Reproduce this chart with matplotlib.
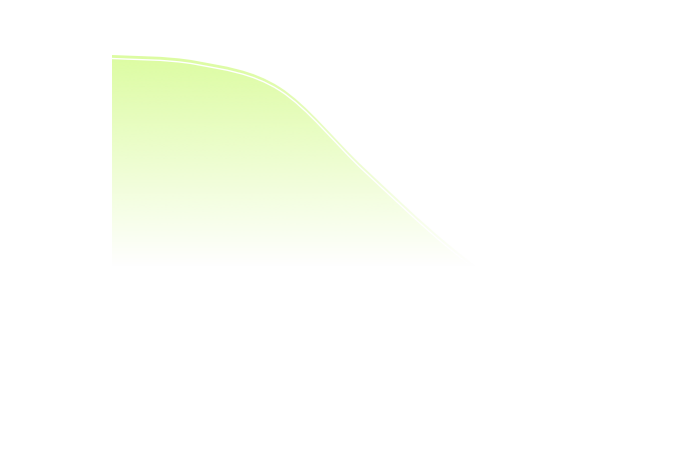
import matplotlib.pyplot as plt
import numpy as np
import matplotlib.transforms as mtransforms
from matplotlib.path import Path
from matplotlib.patches import PathPatch

# chart data (weekly values, axes hidden in the original)
days = ['Mon', 'Tue', 'Wed', 'Thu', 'Fri', 'Sat', 'Sun']
values = [100, 98.3, 90.7, 67.4, 45.2, 27, 14]

top_color = (220 / 255, 252 / 255, 160 / 255)


def smooth_curve(x, y, smooth=1 / 3):
    """Bezier path through the points (catmull-rom style smoothing)"""
    pts = np.column_stack([x, y]).astype(float)
    n = len(pts)
    verts = [pts[0]]
    codes = [Path.MOVETO]
    for i in range(n - 1):
        prev = pts[max(i - 1, 0)]
        cur = pts[i]
        nxt = pts[i + 1]
        nxt2 = pts[min(i + 2, n - 1)]
        c1 = cur + (nxt - prev) * smooth * 0.5
        c2 = nxt - (nxt2 - cur) * smooth * 0.5
        verts += [c1, c2, nxt]
        codes += [Path.CURVE4] * 3
    return verts, codes


fig = plt.figure(figsize=(6.83, 4.59), dpi=100)
ax = fig.add_axes([112 / 683, 60 / 459, 503 / 683, 344 / 459])
ax.set_xlim(0, len(days) - 1)
ax.set_ylim(0, 100)
ax.axis('off')

xs = np.arange(len(days))
verts, codes = smooth_curve(xs, values)

# area below the curve, filled with a fading gradient
area_verts = verts + [(xs[-1], 0), (xs[0], 0), verts[0]]
area_codes = codes + [Path.LINETO, Path.LINETO, Path.CLOSEPOLY]
area = PathPatch(Path(area_verts, area_codes), facecolor='none', edgecolor='none')
ax.add_patch(area)

grad = np.zeros((400, 1, 4))
grad[:, 0, :3] = top_color
grad[:, 0, 3] = np.clip(1 - np.linspace(0, 1, 400) / 0.62, 0, 1)
img = ax.imshow(grad, extent=[xs[0], xs[-1], 0, 101], aspect='auto',
                origin='upper', interpolation='bilinear')
img.set_clip_path(area)

# thin white line, nudged a little below the area edge
shift = mtransforms.offset_copy(ax.transData, fig=fig, x=0, y=-3.5, units='dots')
line = PathPatch(Path(verts, codes), facecolor='none', edgecolor='white',
                 lw=1.0, transform=shift)
ax.add_patch(line)

fig.savefig('out.png', dpi=100, facecolor='white')
